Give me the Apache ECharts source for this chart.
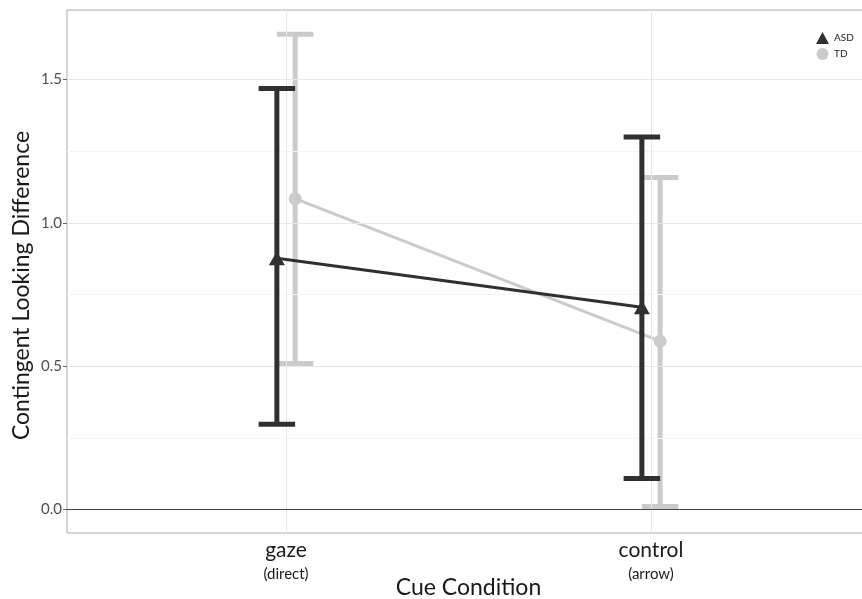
<!DOCTYPE html>
<html>
<head>
<meta charset="utf-8">
<script src="https://cdn.jsdelivr.net/npm/echarts@6/dist/echarts.min.js"></script>
<style>
  html, body { margin: 0; padding: 0; background: #ffffff; }
  #chart { width: 862px; height: 599px; }
</style>
</head>
<body>
<div id="chart"></div>
<script>
// Cue conditions and their sub-labels
const categories = ['gaze', 'control'];
const categoryNotes = ['(direct)', '(arrow)'];
const groups = ['ASD', 'TD'];

// Mean contingent looking difference with error-bar limits
const asdMean  = [0.876, 0.705];
const asdLower = [0.297, 0.108];
const asdUpper = [1.468, 1.299];
const tdMean   = [1.084, 0.587];
const tdLower  = [0.509, 0.010];
const tdUpper  = [1.657, 1.158];

// Axis ticks
const yTicks = [0.0, 0.5, 1.0, 1.5];
const yMinorTicks = [0.25, 0.75, 1.25];
const xTicks = [1, 2];

const FONT = 'Lato, "Open Sans", sans-serif';
const ASD_COLOR = '#303030';
const TD_COLOR = '#cbcbcb';
const DODGE = 0.025;     // horizontal offset between groups (category units)
const CAP_HALF = 0.05;   // half width of error-bar caps (category units)

function points(means, offset) {
  return means.map((m, i) => [i + 1 + offset, m]);
}
function bars(lower, upper, offset) {
  return lower.map((lo, i) => [i + 1 + offset, lo, upper[i]]);
}

function errorBar(color, width) {
  return function (params, api) {
    const x = api.value(0), lo = api.value(1), hi = api.value(2);
    const pLo = api.coord([x, lo]);
    const pHi = api.coord([x, hi]);
    const half = api.coord([x + CAP_HALF, lo])[0] - pLo[0];
    const style = { stroke: color, lineWidth: width, fill: null };
    return {
      type: 'group',
      children: [
        { type: 'line', shape: { x1: pLo[0], y1: pLo[1], x2: pHi[0], y2: pHi[1] }, style: style },
        { type: 'line', shape: { x1: pHi[0] - half, y1: pHi[1], x2: pHi[0] + half, y2: pHi[1] }, style: style },
        { type: 'line', shape: { x1: pLo[0] - half, y1: pLo[1], x2: pLo[0] + half, y2: pLo[1] }, style: style }
      ]
    };
  };
}

const gridLines = []
  .concat(yMinorTicks.map(v => ({ yAxis: v, lineStyle: { color: '#f4f4f4', width: 1, type: 'solid' } })))
  .concat(yTicks.filter(v => v !== 0).map(v => ({ yAxis: v, lineStyle: { color: '#e8e8e8', width: 1, type: 'solid' } })))
  .concat(xTicks.map(v => ({ xAxis: v, lineStyle: { color: '#e8e8e8', width: 1, type: 'solid' } })));

const chart = echarts.init(document.getElementById('chart'), null, { renderer: 'canvas' });

chart.setOption({
  backgroundColor: '#ffffff',
  animation: false,
  textStyle: { fontFamily: FONT },
  grid: {
    left: 67, top: 10, width: 803, height: 523,
    outerBoundsMode: 'none',
    containLabel: false,
    show: true, borderColor: '#ababab', borderWidth: 1, backgroundColor: '#ffffff'
  },
  legend: {
    orient: 'vertical',
    left: 811, top: 27,
    itemWidth: 13, itemHeight: 12, itemGap: 4,
    textStyle: { fontSize: 10, color: '#222222', fontFamily: FONT },
    data: [
      { name: 'ASD', icon: 'triangle' },
      { name: 'TD', icon: 'circle' }
    ]
  },
  xAxis: {
    type: 'value',
    min: 0.4, max: 2.6,
    name: 'Cue Condition',
    nameLocation: 'middle',
    nameGap: 43,
    nameMoveOverlap: false,
    nameTextStyle: { fontSize: 23, color: '#1a1a1a', fontFamily: FONT },
    axisLine: { show: false },
    splitLine: { show: false },
    axisTick: { show: true, customValues: xTicks, length: 4, lineStyle: { color: '#666666' } },
    axisLabel: {
      customValues: xTicks,
      margin: 5,
      formatter: v => '{a|' + categories[v - 1] + '}\n{b|' + categoryNotes[v - 1] + '}',
      rich: {
        a: { fontSize: 21, color: '#1a1a1a', lineHeight: 25, fontFamily: FONT },
        b: { fontSize: 15, color: '#1a1a1a', lineHeight: 22, fontFamily: FONT }
      }
    }
  },
  yAxis: {
    type: 'value',
    min: -0.082, max: 1.742,
    name: 'Contingent Looking Difference',
    nameLocation: 'middle',
    nameGap: 34,
    nameMoveOverlap: false,
    nameTextStyle: { fontSize: 23, color: '#1a1a1a', fontFamily: FONT, padding: [0, 0, 0, -28] },
    axisLine: { show: false },
    splitLine: { show: false },
    axisTick: { show: true, customValues: yTicks, length: 4, lineStyle: { color: '#666666' } },
    axisLabel: {
      customValues: yTicks,
      margin: 5,
      fontSize: 15,
      color: '#4d4d5a',
      fontFamily: FONT,
      formatter: v => v.toFixed(1)
    }
  },
  series: [
    {
      name: 'grid',
      type: 'line',
      data: [],
      silent: true,
      z: 1,
      markLine: { silent: true, symbol: 'none', label: { show: false }, data: gridLines }
    },
    {
      name: 'zero',
      type: 'line',
      data: [],
      silent: true,
      z: 2,
      markLine: {
        silent: true, symbol: 'none', label: { show: false },
        data: [{ yAxis: 0, lineStyle: { color: '#444444', width: 1, type: 'solid' } }]
      }
    },
    {
      name: 'TD error',
      type: 'custom',
      z: 3,
      renderItem: errorBar(TD_COLOR, 5),
      encode: { x: 0, y: [1, 2] },
      data: bars(tdLower, tdUpper, DODGE)
    },
    {
      name: 'TD',
      type: 'line',
      z: 4,
      data: points(tdMean, DODGE),
      symbol: 'circle',
      symbolSize: 13,
      lineStyle: { color: TD_COLOR, width: 3 },
      itemStyle: { color: TD_COLOR },
      emphasis: { disabled: true }
    },
    {
      name: 'ASD error',
      type: 'custom',
      z: 5,
      renderItem: errorBar(ASD_COLOR, 5),
      encode: { x: 0, y: [1, 2] },
      data: bars(asdLower, asdUpper, -DODGE)
    },
    {
      name: 'ASD',
      type: 'line',
      z: 6,
      data: points(asdMean, -DODGE),
      symbol: 'triangle',
      symbolSize: [16, 14],
      lineStyle: { color: ASD_COLOR, width: 3 },
      itemStyle: { color: ASD_COLOR },
      emphasis: { disabled: true }
    }
  ]
});
</script>
</body>
</html>
